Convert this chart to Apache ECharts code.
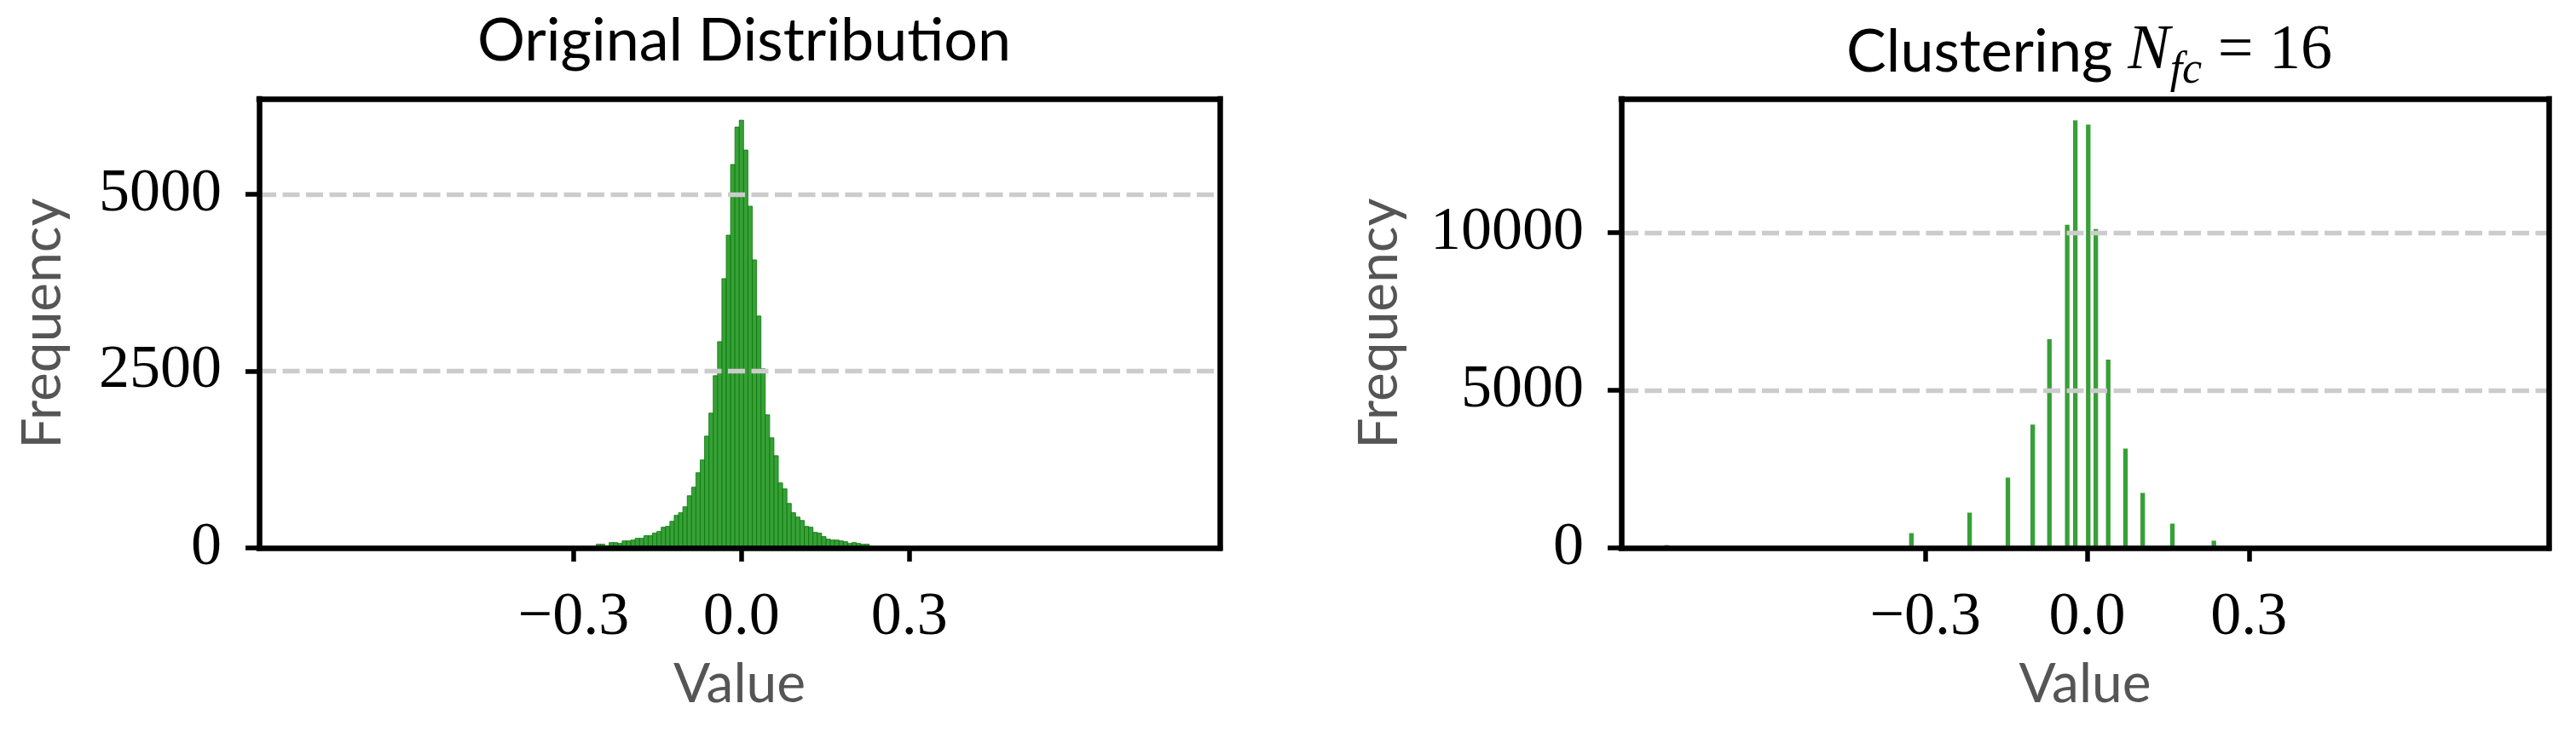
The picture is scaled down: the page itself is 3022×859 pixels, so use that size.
<!DOCTYPE html>
<html><head><meta charset="utf-8">
<script src="https://cdn.jsdelivr.net/npm/echarts@6/dist/echarts.min.js"></script>
<style>html,body{margin:0;padding:0;background:#fff}#c{width:3022px;height:859px}</style>
</head><body><div id="c"></div>
<script>
// ---------- data ----------
// Left panel: histogram of the original weights (bin k has centre k * origBinWidth)
const origBinWidth = 0.00775;
const origFirstBin = -33;
const origCounts = [52,52,30,76,76,64,100,100,112,136,136,173,173,209,233,293,305,377,461,498,582,738,859,1063,1244,1581,1906,2436,2917,3808,4422,5422,5951,6048,5626,4832,4073,3279,2532,1882,1557,1304,919,835,630,498,437,389,305,293,221,209,161,124,112,112,100,88,64,76,64,52,52];
// Right panel: histogram after clustering (N_fc = 16)
const clusterBinWidth = 0.0084;
const clusterCenters = [-0.780,-0.326,-0.218,-0.147,-0.101,-0.070,-0.037,-0.022,0.002,0.016,0.039,0.071,0.103,0.158,0.235];
const clusterCounts  = [90,470,1120,2230,3910,6620,10250,13560,13420,10115,5970,3150,1745,770,230];
// axis ticks
const xTicks = [-0.3, 0, 0.3];
const xTickLabels = ['\u22120.3', '0.0', '0.3'];
const origYTicks = [0, 2500, 5000];
const clusYTicks = [0, 5000, 10000];
const titles = ['Original Distribution', 'Clustering'];
const xName = 'Value', yName = 'Frequency';

// ---------- build ----------
const origData = origCounts.map((c, i) => [(origFirstBin + i) * origBinWidth, c]);
const clusData = clusterCenters.map((x, i) => [x, clusterCounts[i]]);

const serifFont = 'Liberation Serif';
const sansFont = 'Lato';
const GREEN = 'rgba(44,155,44,0.95)';

function histItem(width, stroke) {
  return function (params, api) {
    const x = api.value(0), y = api.value(1);
    const p0 = api.coord([x - width / 2, y]);
    const p1 = api.coord([x + width / 2, 0]);
    return {
      type: 'rect',
      shape: { x: p0[0], y: p0[1], width: p1[0] - p0[0], height: p1[1] - p0[1] },
      style: stroke ? { fill: GREEN, stroke: 'rgba(10,120,10,0.8)', lineWidth: 1 } : { fill: GREEN }
    };
  };
}

const grids = [
  { left: 304, top: 116, width: 1127, height: 527 },
  { left: 1902, top: 116, width: 1088, height: 527 }
];
const xRanges = [[-0.862, 0.855], [-0.864, 0.856]];
const yMax = [6350, 14240];
const yTicksArr = [origYTicks, clusYTicks];

const spine = { show: true, onZero: false, lineStyle: { color: '#000', width: 6.5, cap: 'square' } };

const xAxes = [], yAxes = [];
for (let g = 0; g < 2; g++) {
  xAxes.push({
    type: 'value', gridIndex: g, min: xRanges[g][0], max: xRanges[g][1], z: 10,
    axisLine: spine,
    axisTick: { show: true, customValues: xTicks, length: 16, lineStyle: { color: '#000', width: 5.5 } },
    axisLabel: {
      customValues: xTicks, margin: 46, fontFamily: serifFont, fontSize: 72, color: '#000',
      formatter: v => { let best = 0; xTicks.forEach((t, i) => { if (Math.abs(t - v) < Math.abs(xTicks[best] - v)) best = i; }); return xTickLabels[best]; }
    },
    splitLine: { show: false },
    name: xName, nameLocation: 'middle', nameGap: 128,
    nameTextStyle: { fontFamily: sansFont, fontSize: 64, color: '#555' }
  });
  yAxes.push({
    type: 'value', gridIndex: g, min: 0, max: yMax[g], interval: yTicksArr[g][1], z: 10,
    axisLine: spine,
    axisTick: { show: true, customValues: yTicksArr[g], length: 16, lineStyle: { color: '#000', width: 5.5 } },
    axisLabel: { customValues: yTicksArr[g], margin: 44, fontFamily: serifFont, fontSize: 72, color: '#000',
      formatter: v => String(Math.round(v)) },
    splitLine: { show: true, showMinLine: false, lineStyle: { color: '#cccccc', width: 5.4, type: [20, 7.5] } },
    name: yName, nameLocation: 'middle', nameGap: g === 0 ? 222 : 252,
    nameTextStyle: { fontFamily: sansFont, fontSize: 64, color: '#555' }
  });
}
// top and right frame lines
for (let g = 0; g < 2; g++) {
  xAxes.push({ type: 'value', gridIndex: g, position: 'top', min: xRanges[g][0], max: xRanges[g][1], z: 10,
    axisLine: spine, axisTick: { show: false }, axisLabel: { show: false }, splitLine: { show: false } });
  yAxes.push({ type: 'value', gridIndex: g, position: 'right', min: 0, max: yMax[g], z: 10,
    axisLine: spine, axisTick: { show: false }, axisLabel: { show: false }, splitLine: { show: false } });
}

const option = {
  backgroundColor: '#fff',
  animation: false,
  title: [
    { text: titles[0], left: 868, top: 8, textAlign: 'center',
      textStyle: { fontFamily: sansFont, fontSize: 70, fontWeight: 'normal', color: '#000' } },
    { text: '{a|' + titles[1] + ' }{n|N}{s|fc}{e| = 16}', left: 2446, top: 8, textAlign: 'center',
      textStyle: { fontFamily: sansFont, fontSize: 70, fontWeight: 'normal', color: '#000',
        rich: {
          a: { fontFamily: sansFont, fontSize: 70, color: '#000' },
          n: { fontFamily: serifFont, fontStyle: 'italic', fontSize: 74, color: '#000' },
          s: { fontFamily: serifFont, fontStyle: 'italic', fontSize: 52, color: '#000', padding: [44, 0, 0, 0] },
          e: { fontFamily: serifFont, fontSize: 74, color: '#000' }
        } } }
  ],
  grid: grids,
  xAxis: xAxes,
  yAxis: yAxes,
  series: [
    { type: 'custom', xAxisIndex: 0, yAxisIndex: 0, renderItem: histItem(origBinWidth, true), data: origData, encode: { x: 0, y: 1 }, z: 2 },
    { type: 'custom', xAxisIndex: 1, yAxisIndex: 1, renderItem: histItem(clusterBinWidth, false), data: clusData, encode: { x: 0, y: 1 }, z: 2 }
  ]
};
const chart = echarts.init(document.getElementById('c'), null, { renderer: 'canvas', width: 3022, height: 859 });
chart.setOption(option);
</script>
</body></html>
